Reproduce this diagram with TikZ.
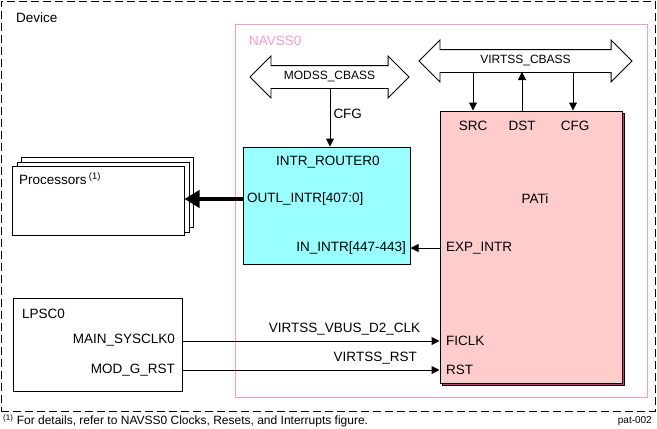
\documentclass[tikz,border=0pt]{standalone}
\usepackage{fontspec}
\setmainfont{Liberation Sans}
\usetikzlibrary{shapes.arrows,arrows.meta}
\definecolor{routercyan}{RGB}{153,255,255}
\definecolor{patipink}{RGB}{255,204,204}
\definecolor{navsspink}{RGB}{255,153,204}
\definecolor{patishade}{RGB}{230,40,120}
\tikzstyle{block} = [
    rectangle,
    draw,
    line width=1pt,
    inner sep=0pt
    ]
\tikzstyle{bus} = [
    double arrow,
    draw,
    fill=white,
    line width=0.8pt,
    double arrow head extend=9.5pt,
    inner xsep=0pt,
    inner ysep=5.5pt,
    text height=8pt,
    text depth=3pt,
    font=\fontsize{12}{14}\selectfont
    ]
\tikzstyle{sig} = [inner sep=0pt, font=\fontsize{13.5}{16}\selectfont]
\tikzstyle{wire} = [line width=1pt, -{Triangle[length=8pt,width=8pt]}]

\begin{document}
\begin{tikzpicture}[x=1pt,y=-1pt]
        \useasboundingbox (0,0) rectangle (657,429);

        % Frames
        \node (device) [block, dash pattern=on 8pt off 4pt, minimum width=654, minimum height=410] at (328,206) {};
        \node (devicelbl) [sig, anchor=west] at (16,18) {Device};
        \node (navss) [block, draw=navsspink, minimum width=412, minimum height=373] at (441,210.5) {};
        \node (navsslbl) [sig, anchor=west, text=navsspink] at (249,41) {NAVSS0};

        % Buses
        \node (modss) [bus, minimum height=159] at (329.5,77) {MODSS\_CBASS};
        \node (virtss) [bus, minimum height=213] at (525.5,61) {VIRTSS\_CBASS};
        \coordinate (modss-cfg) at (330,88);
        \coordinate (virtss-src) at (473,72);
        \coordinate (virtss-dst) at (522,72);
        \coordinate (virtss-cfg) at (573,72);

        % Processors
        \node (proc3) [block, fill=white, minimum width=172, minimum height=70] at (107.5,192) {};
        \node (proc2) [block, fill=white, minimum width=172, minimum height=70] at (103,197) {};
        \node (proc) [block, fill=white, minimum width=172, minimum height=69] at (98,200.5) {};
        \node (proclbl) [sig, anchor=west] at (19,179) {Processors\,\textsuperscript{(1)}};

        % INTR_ROUTER0
        \node (router) [block, fill=routercyan, minimum width=167, minimum height=117] at (326.5,205.5) {};
        \node (routerlbl) [sig] at (328,162) {INTR\_ROUTER0};
        \node (outl) [sig, anchor=west] at (247,199) {OUTL\_INTR[407:0]};
        \node (inintr) [sig, anchor=east] at (406,248) {IN\_INTR[447-443]};

        % PATi
        \node (patishadow) [block, fill=patishade, minimum width=182, minimum height=272] at (533.5,249) {};
        \node (pati) [block, fill=patipink, minimum width=182, minimum height=272] at (531,247) {};
        \node (patilbl) [sig] at (535,199) {PATi};
        \node (src) [sig] at (473,126) {SRC};
        \node (dst) [sig] at (522,126) {DST};
        \node (cfg) [sig] at (575,126) {CFG};
        \node (exp) [sig, anchor=west] at (446,248) {EXP\_INTR};
        \node (ficlk) [sig, anchor=west] at (446,341) {FICLK};
        \node (rst) [sig, anchor=west] at (446,370) {RST};

        % LPSC0
        \node (lpsc) [block, minimum width=169, minimum height=93] at (97.5,344.5) {};
        \node (lpsclbl) [sig, anchor=west] at (22,314) {LPSC0};
        \node (sysclk) [sig, anchor=east] at (175,340) {MAIN\_SYSCLK0};
        \node (modrst) [sig, anchor=east] at (175,370) {MOD\_G\_RST};

        % Lines
        \draw[wire] (modss-cfg) -- node[sig, right=3pt, pos=0.45] {CFG} (modss-cfg |- router.north);
        \draw[wire] (virtss-src) -- (virtss-src |- pati.north);
        \draw[wire] (virtss-dst |- pati.north) -- (virtss-dst);
        \draw[wire] (virtss-cfg) -- (virtss-cfg |- pati.north);
        \draw[wire] (pati.west |- exp) -- (router.east |- exp);
        \draw[line width=4pt, -{Triangle[length=15pt,width=17pt]}] (router.west |- outl) -- (proc.east |- outl);
        \draw[wire] (lpsc.east |- 0,341) -- node[sig, above=5pt, pos=0.63] {VIRTSS\_VBUS\_D2\_CLK} (pati.west |- 0,341);
        \draw[wire] (lpsc.east |- 0,370) -- node[sig, above=5pt, pos=0.75] {VIRTSS\_RST} (pati.west |- 0,370);

        % Footnote
        \node (note) [inner sep=0pt, anchor=west, font=\fontsize{12}{14}\selectfont] at (3,421) {\textsuperscript{(1)} For details, refer to NAVSS0 Clocks, Resets, and Interrupts figure.};
        \node (figid) [inner sep=0pt, anchor=east, font=\fontsize{10}{12}\selectfont] at (652,421) {pat-002};
    \end{tikzpicture}
\end{document}
